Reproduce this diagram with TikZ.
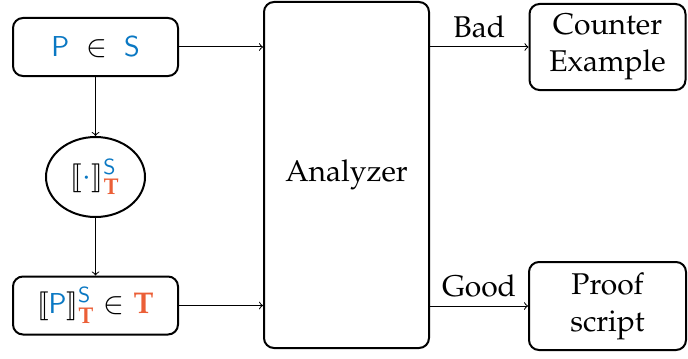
\documentclass[tikz,border=0pt]{standalone}
\usepackage[T1]{fontenc}
\usepackage{mathpazo}
\usepackage{stmaryrd}
\usetikzlibrary{shapes.geometric}
\definecolor{sblue}{RGB}{10,120,195}
\definecolor{torange}{RGB}{235,95,55}
\tikzset{
  rbox/.style={draw, line width=1pt, rounded corners=5pt, align=center, inner sep=0pt},
  oval/.style={draw, ellipse, line width=1pt, inner sep=0pt},
  conn/.style={->, line width=0.5pt}
}
\newcommand{\Sb}{\textcolor{sblue}{\mathsf{S}}}
\newcommand{\Pb}{\textcolor{sblue}{\mathsf{P}}}
\newcommand{\To}{\textcolor{torange}{\mathbf{T}}}
\begin{document}
\begin{tikzpicture}[x=0.5pt,y=-0.5pt, font=\fontsize{15}{18.5}\selectfont]
\useasboundingbox (0,0) rectangle (688,358);
\node[rbox, minimum width=82.5pt, minimum height=29pt] (src) at (95.5,47) {$\Pb\;\in\;\Sb$};
\node[oval, minimum width=49.5pt, minimum height=40pt] (tr) at (95.5,177) {$\llbracket\textcolor{sblue}{\cdot}\rrbracket^{\Sb}_{\To}$};
\node[rbox, minimum width=82.5pt, minimum height=29pt] (tgt) at (95.5,305.5) {$\llbracket\Pb\rrbracket^{\Sb}_{\To}\in\To$};
\node[rbox, minimum width=82.5pt, minimum height=173pt] (an) at (346.5,175) {Analyzer};
\node[rbox, minimum width=78pt, minimum height=43pt] (cex) at (607.5,47) {Counter\\Example};
\node[rbox, minimum width=78.5pt, minimum height=44pt] (prf) at (607.5,306) {Proof\\script};
\draw[conn] (src) -- (tr);
\draw[conn] (tr) -- (tgt);
\draw[conn] (src.east) -- (src.east -| an.west);
\draw[conn] (tgt.east) -- (tgt.east -| an.west);
\draw[conn] (an.east |- cex.west) -- node[above=1pt] {Bad} (cex.west);
\draw[conn] (an.east |- prf.west) -- node[above=1pt] {Good} (prf.west);
\end{tikzpicture}
\end{document}
